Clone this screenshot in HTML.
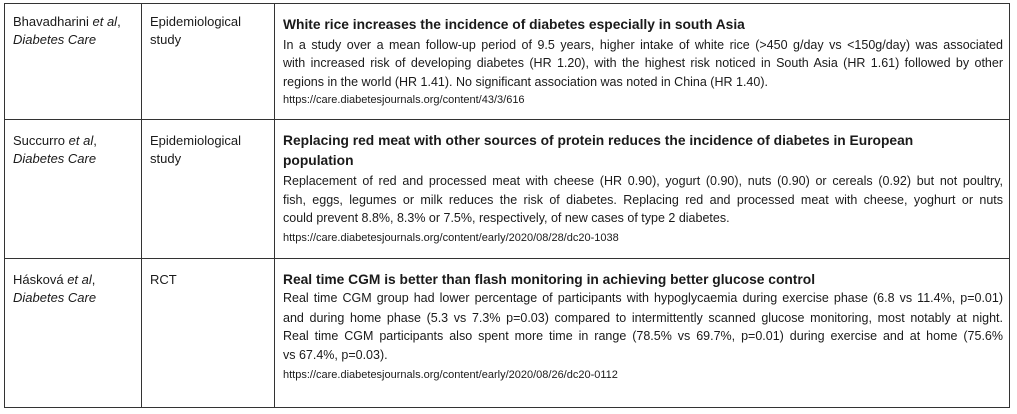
<!DOCTYPE html>
<html><head><meta charset="utf-8"><style>
body{margin:0;width:1017px;height:414px;background:#fff;position:relative;overflow:hidden;font-family:"Liberation Sans",sans-serif;color:#1a1a1a}
.h{position:absolute;height:1px;background:#333;left:4px;width:1006px}
.v{position:absolute;width:1px;background:#333;top:3px;height:405px}
.t{position:absolute;line-height:18px;white-space:nowrap;font-size:13px}
.b{position:absolute;left:283px;line-height:18px;white-space:nowrap;font-size:12.5px}
.j{width:720px;text-align:justify;text-align-last:justify}
.ti{position:absolute;left:283px;line-height:18px;white-space:nowrap;font-size:13.8px;font-weight:bold}
.u{position:absolute;left:283px;line-height:18px;white-space:nowrap;font-size:11px}
</style></head><body>
<div class="h" style="top:3px"></div>
<div class="h" style="top:119px"></div>
<div class="h" style="top:258px"></div>
<div class="h" style="top:407px"></div>
<div class="v" style="left:4px"></div>
<div class="v" style="left:141px"></div>
<div class="v" style="left:274px"></div>
<div class="v" style="left:1009px"></div>

<div class="t" style="left:13px;top:13px">Bhavadharini <i>et al</i>,</div>
<div class="t" style="left:13px;top:31px"><i>Diabetes Care</i></div>
<div class="t" style="left:150px;top:13px">Epidemiological</div>
<div class="t" style="left:150px;top:31px">study</div>
<div class="ti" style="top:16px">White rice increases the incidence of diabetes especially in south Asia</div>
<div class="b j" style="top:36px">In a study over a mean follow-up period of 9.5 years, higher intake of white rice (&gt;450 g/day vs &lt;150g/day) was associated</div>
<div class="b j" style="top:54px">with increased risk of developing diabetes (HR 1.20), with the highest risk noticed in South Asia (HR 1.61) followed by other</div>
<div class="b" style="top:73px">regions in the world (HR 1.41). No significant association was noted in China (HR 1.40).</div>
<div class="u" style="top:91px">https://care.diabetesjournals.org/content/43/3/616</div>

<div class="t" style="left:13px;top:132px">Succurro <i>et al</i>,</div>
<div class="t" style="left:13px;top:150px"><i>Diabetes Care</i></div>
<div class="t" style="left:150px;top:132px">Epidemiological</div>
<div class="t" style="left:150px;top:150px">study</div>
<div class="ti" style="top:132px">Replacing red meat with other sources of protein reduces the incidence of diabetes in European</div>
<div class="ti" style="top:152px">population</div>
<div class="b j" style="top:172px">Replacement of red and processed meat with cheese (HR 0.90), yogurt (0.90), nuts (0.90) or cereals (0.92) but not poultry,</div>
<div class="b j" style="top:191px">fish, eggs, legumes or milk reduces the risk of diabetes. Replacing red and processed meat with cheese, yoghurt or nuts</div>
<div class="b" style="top:209px">could prevent 8.8%, 8.3% or 7.5%, respectively, of new cases of type 2 diabetes.</div>
<div class="u" style="top:229px">https://care.diabetesjournals.org/content/early/2020/08/28/dc20-1038</div>

<div class="t" style="left:13px;top:271px">Hásková <i>et al</i>,</div>
<div class="t" style="left:13px;top:289px"><i>Diabetes Care</i></div>
<div class="t" style="left:150px;top:271px">RCT</div>
<div class="ti" style="top:271px">Real time CGM is better than flash monitoring in achieving better glucose control</div>
<div class="b j" style="top:289px">Real time CGM group had lower percentage of participants with hypoglycaemia during exercise phase (6.8 vs 11.4%, p=0.01)</div>
<div class="b j" style="top:309px">and during home phase (5.3 vs 7.3% p=0.03) compared to intermittently scanned glucose monitoring, most notably at night.</div>
<div class="b j" style="top:327px">Real time CGM participants also spent more time in range (78.5% vs 69.7%, p=0.01) during exercise and at home (75.6%</div>
<div class="b" style="top:346px">vs 67.4%, p=0.03).</div>
<div class="u" style="top:366px">https://care.diabetesjournals.org/content/early/2020/08/26/dc20-0112</div>
</body></html>
